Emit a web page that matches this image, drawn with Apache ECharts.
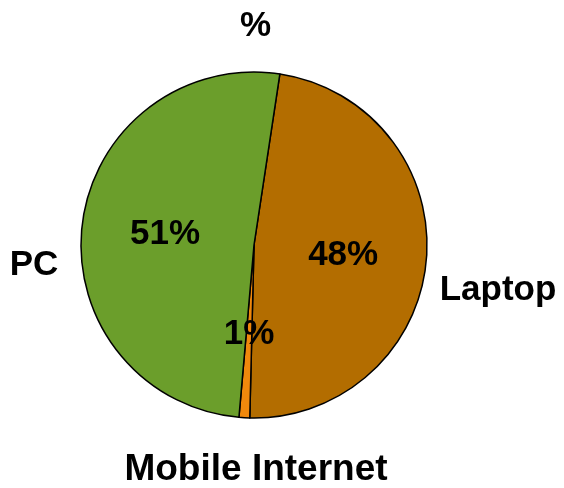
<!DOCTYPE html>
<html>
<head>
<meta charset="utf-8">
<style>
  html, body { margin: 0; padding: 0; background: #ffffff; }
  #chart { width: 564px; height: 488px; }
</style>
<script src="https://cdn.jsdelivr.net/npm/echarts@6/dist/echarts.min.js"></script>
</head>
<body>
<div id="chart"></div>
<script>
// Share of access by device, in percent
const categories = ['Laptop', 'Mobile Internet', 'PC'];
const shares = [48, 1, 51];
const sliceColors = ['#B36D00', '#F0880C', '#6B9E2B'];

// Where each category name sits around the pie, and its text size
const nameSpots = [
  { x: 498, y: 290 },
  { x: 256, y: 470 },
  { x: 34, y: 265 }
];
const nameSizes = [35, 37, 35];

const font = '"Liberation Sans", Arial, Helvetica, sans-serif';

const pieData = categories.map((name, i) => ({
  name: name,
  value: shares[i],
  itemStyle: { color: sliceColors[i] },
  label: { offset: [0, i === 0 ? 3 : 0] }
}));

const chart = echarts.init(document.getElementById('chart'), null, { renderer: 'canvas' });

chart.setOption({
  animation: false,
  title: {
    text: '%',
    left: 235,
    top: 4,
    textStyle: { fontFamily: font, fontWeight: 'bold', fontSize: 35, color: '#000000' }
  },
  series: [
    {
      type: 'pie',
      center: [254, 245],
      radius: [0, 173],
      startAngle: 81.4,
      clockwise: true,
      silent: true,
      itemStyle: { borderColor: '#000000', borderWidth: 1.5 },
      label: {
        show: true,
        position: 'inside',
        formatter: (p) => p.value + '%',
        fontFamily: font,
        fontWeight: 'bold',
        fontSize: 35,
        color: '#000000'
      },
      labelLine: { show: false },
      data: pieData
    },
    {
      type: 'pie',
      center: [254, 245],
      radius: [0, 173],
      startAngle: 81.4,
      clockwise: true,
      silent: true,
      z: 1,
      itemStyle: { color: 'transparent', borderWidth: 0 },
      label: {
        show: true,
        position: 'outside',
        alignTo: 'none',
        overflow: 'none',
        width: 400,
        formatter: '{b}',
        fontFamily: font,
        fontWeight: 'bold',
        fontSize: 35,
        color: '#000000'
      },
      labelLine: { show: false },
      labelLayout: (params) => {
        const spot = nameSpots[params.dataIndex];
        return {
          x: spot.x, y: spot.y,
          align: 'center', verticalAlign: 'middle',
          hideOverlap: false, moveOverlap: null
        };
      },
      data: categories.map((name, i) => ({
        name: name,
        value: shares[i],
        label: { fontSize: nameSizes[i] }
      }))
    }
  ]
});
</script>
</body>
</html>
